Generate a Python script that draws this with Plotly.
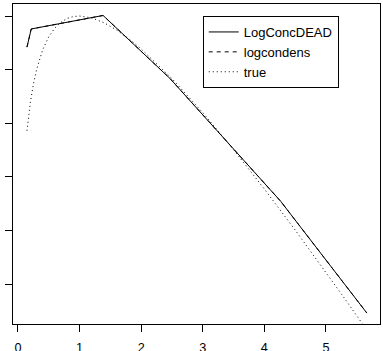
import plotly.graph_objects as go

# LogConcDEAD estimate (log-density knots)
lcd_x = [0.146, 0.215, 1.382, 2.467, 4.265, 5.665]
lcd_y = [-1.290, -1.121, -0.995, -1.582, -2.728, -3.771]

# logcondens estimate (essentially identical knots)
lc_x = [0.146, 0.215, 1.382, 2.467, 4.265, 5.665]
lc_y = [-1.290, -1.121, -0.995, -1.582, -2.728, -3.771]

# true log-density
true_x = [0.146, 0.2, 0.25, 0.3, 0.4, 0.5, 0.6, 0.7, 0.8, 0.9, 1.0, 1.2, 1.4,
          1.6, 1.8, 2.0, 2.5, 3.0, 3.5, 4.0, 4.5, 5.0, 5.3, 5.59]
true_y = [-2.070, -1.809, -1.636, -1.504, -1.316, -1.193, -1.111, -1.057,
          -1.023, -1.005, -1.000, -1.018, -1.064, -1.130, -1.212, -1.307,
          -1.584, -1.901, -2.247, -2.614, -2.996, -3.391, -3.632, -3.869]

x_ticks = [0, 1, 2, 3, 4, 5]
y_ticks = [-3.5, -3.0, -2.5, -2.0, -1.5, -1.0]

fig = go.Figure()
fig.add_trace(go.Scatter(x=lcd_x, y=lcd_y, mode="lines", name="LogConcDEAD",
                         line=dict(color="black", width=1, dash="solid")))
fig.add_trace(go.Scatter(x=lc_x, y=lc_y, mode="lines", name="logcondens",
                         line=dict(color="black", width=1, dash="4px,4px")))
fig.add_trace(go.Scatter(x=true_x, y=true_y, mode="lines", name="true",
                         line=dict(color="black", width=1, dash="1px,3px")))

axis_common = dict(showline=True, mirror=True, linecolor="black", linewidth=1,
                   showgrid=False, zeroline=False, ticks="outside", ticklen=7,
                   tickcolor="black", tickwidth=1, automargin=False)

fig.update_layout(
    width=383, height=351,
    margin=dict(l=13, r=3, t=4, b=27, autoexpand=False),
    paper_bgcolor="white", plot_bgcolor="white",
    font=dict(family="Liberation Sans, Arial, sans-serif", size=12.7, color="black"),
    xaxis=dict(range=[-0.081, 5.878], tickvals=x_ticks,
               ticktext=[str(v) for v in x_ticks], ticklabelstandoff=5,
               **axis_common),
    yaxis=dict(range=[-3.873, -0.888], tickvals=y_ticks, showticklabels=False,
               **axis_common),
    legend=dict(x=0.517, y=0.9625, xanchor="left", yanchor="top",
                bordercolor="black", borderwidth=1, bgcolor="white",
                font=dict(size=13), tracegroupgap=0),
    showlegend=True,
)

fig.write_html("out.html")
